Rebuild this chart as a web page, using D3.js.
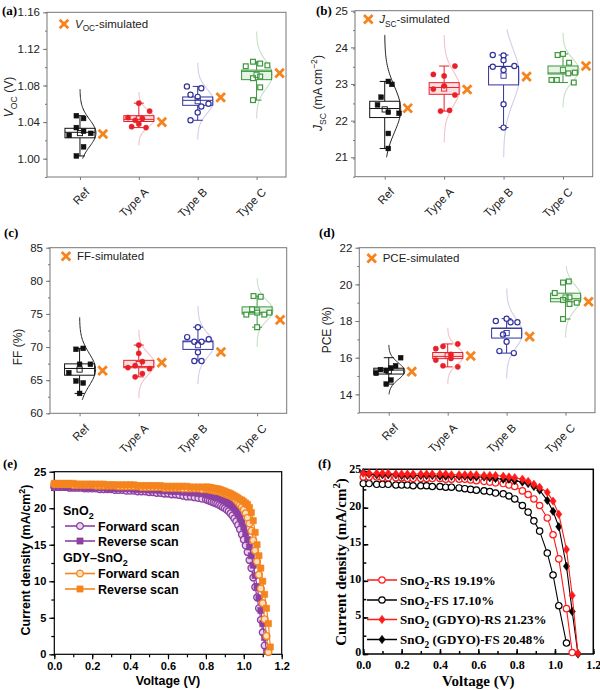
<!DOCTYPE html>
<html>
<head>
<meta charset="utf-8">
<script src="https://cdn.jsdelivr.net/npm/d3@7"></script>
<style>
  body { margin: 0; background: #fff; }
  svg { display: block; }
</style>
</head>
<body>
<div id="chart"></div>
<script>
const width = 600
const height = 690

const groups = ["Ref", "Type A", "Type B", "Type C"]

// (a) Voc (V) - one array per group
const vocValues = [
  [1.047, 1.044, 1.034, 1.030, 1.0255, 1.0277, 1.013, 1.003],
  [1.0607, 1.052, 1.045, 1.044, 1.042, 1.038, 1.035, 1.034],
  [1.079, 1.077, 1.070, 1.0676, 1.060, 1.0506, 1.057, 1.042],
  [1.101, 1.106, 1.104, 1.102, 1.088, 1.0898, 1.078, 1.064]
]
const vocJitter = [
  [-1, 1, -1, 1, -3, 3, 1, -1],
  [0, 3, -3, 1, -1, 0, -2, 2],
  [-3, 1, -2, 0, 3, 0, 1, -2],
  [-3, -1, 1, 3, -1, 1, 1, -1]
]
const vocSim = [1.027, 1.040, 1.067, 1.0935]
const vocCurve = [[1.000, 1.076], [1.0145, 1.073], [1.021, 1.105], [1.044, 1.139]]
const vocTicks = [1.00, 1.04, 1.08, 1.12, 1.16]

// (b) Jsc (mA cm-2)
const jscValues = [
  [23.07, 22.99, 22.64, 22.43, 22.23, 22.20, 21.65, 21.24],
  [23.26, 23.49, 23.22, 22.95, 22.86, 22.70, 22.26, 22.28],
  [23.79, 23.78, 23.47, 23.65, 23.38, 23.49, 22.45, 21.81],
  [23.79, 23.82, 23.58, 23.29, 23.31, 23.11, 23.11, 23.04]
]
const jscJitter = [
  [1, 2, -1, -2, 1, 4, 1, 1],
  [-3, 3, 0, 0, -3, 3, -1, 1.5],
  [-3, 0, -3, 0, 0, 3, 0, 0],
  [-1.5, 0, 1.7, 1.5, 3.3, -3.2, -1.7, 3]
]
const jscSim = [22.34, 22.85, 23.20, 23.49]
const jscCurve = [[21.0, 24.34], [21.4, 24.34], [21.0, 24.49], [22.36, 24.4]]
const jscTicks = [21, 22, 23, 24, 25]

// (c) FF (%)
const ffValues = [
  [69.66, 69.8, 67.4, 67.4, 66.14, 64.88, 64.58, 63.0],
  [70.3, 69.05, 67.8, 67.2, 66.9, 66.74, 66.0, 65.5],
  [73.0, 71.5, 71.17, 70.8, 70.8, 69.2, 67.9, 67.9],
  [77.7, 77.6, 75.7, 75.2, 74.9, 74.9, 75.2, 73.0]
]
const ffJitter = [
  [-1, 1, 0, 3, -3, -1, 1, 0],
  [0, 0, 1, -1, -3, 3, 1, -1],
  [0, -3, 3, -1, 1, 0, -1, 1],
  [-1, 1, -1.4, 0, -3, 2, 3.4, 0]
]
const ffSim = [66.44, 67.65, 69.25, 74.1]
const ffCurve = [[62.0, 74.5], [62.3, 72.6], [64.4, 76.2], [70.0, 80.4]]
const ffTicks = [60, 65, 70, 75, 80, 85]

// (d) PCE (%)
const pceValues = [
  [16.0, 15.56, 15.44, 15.35, 15.3, 15.15, 14.78, 14.56],
  [16.75, 16.62, 16.49, 16.18, 15.96, 15.87, 15.56, 15.5],
  [18.0, 18.13, 17.93, 17.93, 17.27, 16.87, 16.36, 16.25],
  [20.1, 20.16, 19.53, 19.29, 19.15, 19.0, 18.93, 18.11]
]
const pceJitter = [
  [3.3, 1.9, 0.6, -2.3, -0.7, -3.5, 0.6, -0.7],
  [2.8, -1.3, -3.3, 0.9, 0.9, -3.3, -1.3, 2.8],
  [-3, 0, 1.1, 3, -1, 0, -2, 2],
  [-0.7, 0.9, -3, 1.1, -0.7, 3.1, 1.1, -0.7]
]
const pceSim = [15.24, 16.09, 17.15, 19.05]
const pceCurve = [[14.0, 16.7], [14.56, 17.64], [14.87, 19.78], [17.1, 21.0]]
const pceTicks = [14, 16, 18, 20, 22]

// (e) J-V curves, SnO2 vs GDY-SnO2
const voltsE = [0.00, 0.02, 0.04, 0.06, 0.08, 0.10, 0.12, 0.14, 0.16, 0.18,
  0.20, 0.22, 0.24, 0.26, 0.28, 0.30, 0.32, 0.34, 0.36, 0.38,
  0.40, 0.42, 0.44, 0.46, 0.48, 0.50, 0.52, 0.54, 0.56, 0.58,
  0.60, 0.62, 0.64, 0.66, 0.68, 0.70, 0.72, 0.74, 0.76, 0.78, 0.80,
  0.81, 0.82, 0.83, 0.84, 0.85, 0.86, 0.87, 0.88, 0.89, 0.90,
  0.91, 0.92, 0.93, 0.94, 0.95, 0.96, 0.97, 0.98, 0.99, 1.00,
  1.01, 1.02, 1.03, 1.04, 1.05, 1.06, 1.07, 1.08, 1.09, 1.10,
  1.11, 1.12, 1.13, 1.14]
const snForward = [22.9, 22.9, 22.9, 22.9, 22.8, 22.8, 22.8, 22.8, 22.7, 22.7,
  22.7, 22.7, 22.6, 22.6, 22.6, 22.6, 22.5, 22.5, 22.5, 22.4,
  22.4, 22.4, 22.3, 22.3, 22.3, 22.2, 22.2, 22.1, 22.1, 22.0,
  22.0, 21.9, 21.9, 21.8, 21.7, 21.6, 21.6, 21.5, 21.4, 21.3, 21.2,
  21.1, 21.0, 20.9, 20.8, 20.7, 20.6, 20.45, 20.3, 20.15, 20.0,
  19.8, 19.6, 19.3, 19.0, 18.6, 18.2, 17.7, 17.1, 16.4, 15.7,
  14.9, 14.0, 12.9, 11.8, 10.5, 9.2, 7.8, 6.3, 4.7, 3.0, 1.2]
const snReverse = [23.0, 23.0, 23.0, 22.9, 22.9, 22.9, 22.9, 22.9, 22.8, 22.8,
  22.8, 22.8, 22.8, 22.8, 22.7, 22.7, 22.7, 22.7, 22.7, 22.7,
  22.7, 22.6, 22.6, 22.6, 22.6, 22.5, 22.5, 22.5, 22.4, 22.4,
  22.4, 22.3, 22.3, 22.3, 22.2, 22.2, 22.1, 22.1, 22.0, 22.0, 21.9,
  21.85, 21.8, 21.7, 21.65, 21.6, 21.5, 21.4, 21.3, 21.15, 21.0,
  20.85, 20.7, 20.5, 20.3, 20.0, 19.6, 19.2, 18.7, 18.1, 17.4,
  16.6, 15.7, 14.7, 13.5, 12.2, 10.8, 9.3, 7.7, 6.0, 4.2, 2.3, 0.4]
const gdyForward = [23.3, 23.3, 23.3, 23.3, 23.3, 23.2, 23.2, 23.2, 23.2, 23.2,
  23.2, 23.1, 23.1, 23.1, 23.1, 23.1, 23.1, 23.0, 23.0, 23.0,
  23.0, 23.0, 23.0, 22.9, 22.9, 22.9, 22.9, 22.9, 22.9, 22.8,
  22.8, 22.8, 22.8, 22.8, 22.7, 22.7, 22.7, 22.7, 22.7, 22.6, 22.6,
  22.6, 22.55, 22.5, 22.45, 22.4, 22.35, 22.3, 22.2, 22.1, 22.0,
  21.9, 21.8, 21.7, 21.55, 21.4, 21.1, 20.8, 20.5, 20.2, 19.8,
  19.3, 18.7, 17.9, 16.9, 15.6, 14.2, 12.7, 10.9, 9.0, 7.0, 4.8, 2.5, 0.3]
const gdyReverse = [23.4, 23.4, 23.4, 23.4, 23.4, 23.4, 23.3, 23.3, 23.3, 23.3,
  23.3, 23.3, 23.3, 23.3, 23.2, 23.2, 23.2, 23.2, 23.2, 23.2,
  23.2, 23.2, 23.1, 23.1, 23.1, 23.1, 23.1, 23.1, 23.1, 23.0,
  23.0, 23.0, 23.0, 23.0, 23.0, 23.0, 22.9, 22.9, 22.9, 22.9, 22.9,
  22.9, 22.85, 22.8, 22.75, 22.7, 22.65, 22.6, 22.5, 22.4, 22.3,
  22.2, 22.1, 22.0, 21.85, 21.7, 21.55, 21.4, 21.2, 21.1, 20.9,
  20.7, 20.5, 20.1, 19.4, 18.3, 16.7, 15.0, 13.5, 11.8, 10.0,
  8.2, 6.3, 4.2, 1.0]

// (f) J-V curves, SnO2 vs SnO2 (GDYO)
const voltsF = [0.00, 0.03, 0.07, 0.10, 0.13, 0.17, 0.20, 0.23, 0.26, 0.30,
  0.33, 0.36, 0.40, 0.43, 0.46, 0.50, 0.53, 0.56, 0.59, 0.63,
  0.66, 0.69, 0.73, 0.76, 0.79, 0.83, 0.86, 0.89, 0.92, 0.96,
  0.99, 1.02, 1.06, 1.09, 1.12]
const snRS = [24.2, 24.2, 24.2, 24.1, 24.1, 24.1, 24.1, 24.0, 24.0, 24.0,
  24.0, 24.0, 24.0, 23.9, 23.9, 23.9, 23.9, 23.8, 23.7, 23.6,
  23.5, 23.4, 23.3, 23.1, 22.9, 22.3, 21.8, 21.2, 20.3, 18.6,
  16.3, 13.0, 6.2, 0.2]
const snFS = [23.3, 23.3, 23.2, 23.2, 23.2, 23.1, 23.1, 23.1, 23.0, 23.0,
  23.0, 22.9, 22.9, 22.8, 22.8, 22.7, 22.6, 22.5, 22.4, 22.3,
  22.2, 22.0, 21.9, 21.6, 21.2, 20.3, 19.4, 18.2, 16.8, 13.8,
  10.8, 6.6, 1.5]
const gdyoRS = [24.7, 24.7, 24.7, 24.7, 24.7, 24.6, 24.6, 24.6, 24.6, 24.6,
  24.6, 24.6, 24.6, 24.6, 24.5, 24.5, 24.5, 24.5, 24.5, 24.4,
  24.4, 24.4, 24.3, 24.2, 24.1, 23.9, 23.6, 23.2, 22.8, 22.1,
  20.9, 19.1, 14.3, 8.0, 0.1]
const gdyoFS = [24.8, 24.6, 24.5, 24.5, 24.5, 24.5, 24.4, 24.4, 24.4, 24.4,
  24.4, 24.4, 24.3, 24.3, 24.3, 24.3, 24.3, 24.2, 24.2, 24.2,
  24.1, 24.0, 23.9, 23.9, 23.7, 23.5, 23.3, 22.9, 22.4, 21.0,
  19.5, 17.4, 12.0, 5.8, 0.0]

const sansFont = "'Liberation Sans', Arial, sans-serif"
const serifFont = "'Liberation Serif', 'Times New Roman', serif"
const orange = "#f5841f"

const svg = d3.select("#chart")
  .append("svg")
  .attr("width", width)
  .attr("height", height)
  .style("background", "#fff")

// style for each group of the box charts
const groupStyle = [
  { color: "#111", curve: "#222", fill: "none", marker: "square", filled: true },
  { color: "#e8202a", curve: "#f3c3c8", fill: "#fbe1e1", marker: "circle", filled: true },
  { color: "#32329c", curve: "#cfcfea", fill: "none", marker: "circle", filled: false },
  { color: "#3c963c", curve: "#c6e0c6", fill: "#e8f3e8", marker: "square", filled: false }
]

function panelLabel(text, x, y) {
  svg.append("text")
    .attr("x", x).attr("y", y)
    .attr("font-family", serifFont)
    .attr("font-weight", "bold")
    .attr("font-size", 13)
    .text(text)
}

function drawCross(g, x, y) {
  const s = 4.3
  g.append("path")
    .attr("d", `M${x - s},${y - s}L${x + s},${y + s}M${x - s},${y + s}L${x + s},${y - s}`)
    .attr("stroke", orange)
    .attr("stroke-width", 2.8)
    .attr("fill", "none")
}

// rich text helper: parts = [[text, "i"|"sub"|"sup"|""], ...]
function richText(sel, parts, size) {
  let shift = 0
  parts.forEach(([t, kind]) => {
    const sp = sel.append("tspan").text(t)
    let target = 0
    if (kind === "sub") target = size * 0.3
    if (kind === "sup") target = -size * 0.38
    sp.attr("dy", target - shift)
    shift = target
    if (kind === "sub" || kind === "sup") sp.attr("font-size", size * 0.72)
    if (kind === "i") sp.attr("font-style", "italic")
  })
}

function boxPanel(cfg) {
  const g = svg.append("g")
  const x = d3.scaleLinear().domain(cfg.catDomain).range([cfg.left, cfg.right])
  const y = d3.scaleLinear().domain(cfg.yDomain).range([cfg.bottom, cfg.top])
  const jitterStep = 3.6
  const boxW = 30

  // y axis with minor ticks
  const minor = d3.range(cfg.yDomain[0], cfg.yDomain[1] + 1e-9, cfg.minorStep)
  g.append("g")
    .attr("transform", `translate(${cfg.left},0)`)
    .call(d3.axisLeft(y).tickValues(minor).tickSize(2).tickFormat(""))
    .call(a => a.select(".domain").remove())
    .selectAll("line").attr("stroke", "#777")
  const yAxis = g.append("g")
    .attr("transform", `translate(${cfg.left},0)`)
    .call(d3.axisLeft(y).tickValues(cfg.ticks).tickSize(4).tickPadding(3).tickFormat(cfg.fmt))
  yAxis.select(".domain").remove()
  yAxis.selectAll("line").attr("stroke", "#777")
  yAxis.selectAll("text").attr("font-family", sansFont).attr("font-size", 11.5).attr("fill", "#222")

  const xAxis = g.append("g")
    .attr("transform", `translate(0,${cfg.bottom})`)
    .call(d3.axisBottom(x).tickValues([1, 2, 3, 4]).tickSize(3).tickFormat(d => groups[d - 1]))
  xAxis.select(".domain").remove()
  xAxis.selectAll("line").attr("stroke", "#777")
  xAxis.selectAll("text")
    .attr("font-family", sansFont).attr("font-size", 11.5).attr("fill", "#222")
    .attr("text-anchor", "end")
    .attr("y", 0).attr("dy", "0.35em")
    .attr("transform", "translate(7,13) rotate(-45)")

  g.append("rect")
    .attr("x", cfg.left).attr("y", cfg.top)
    .attr("width", cfg.right - cfg.left).attr("height", cfg.bottom - cfg.top)
    .attr("fill", "none").attr("stroke", "#777").attr("stroke-width", 1)

  cfg.values.forEach((vals, i) => {
    const st = groupStyle[i]
    const cx = x(i + 1)
    const sorted = vals.slice().sort(d3.ascending)
    const med = d3.median(sorted)
    const mean = d3.mean(sorted)
    const sd = d3.deviation(sorted)
    // box = mean +/- standard error
    const se = sd / Math.sqrt(sorted.length)
    const q1 = mean - se
    const q3 = mean + se

    // normal distribution curve on the right side
    const [lo, hi] = cfg.curve[i]
    const ys = d3.range(0, 61).map(k => lo + (hi - lo) * k / 60)
    const curveLine = d3.line()
      .x(v => cx + 16 * Math.exp(-0.5 * ((v - mean) / sd) ** 2))
      .y(v => y(v))
      .curve(d3.curveBasis)
    g.append("path")
      .attr("d", curveLine(ys))
      .attr("fill", "none")
      .attr("stroke", st.curve)
      .attr("stroke-width", i === 0 ? 1 : 1.1)

    // whiskers
    ;[[sorted[0], q1], [q3, sorted[sorted.length - 1]]].forEach(([a, b]) => {
      g.append("line")
        .attr("x1", cx).attr("x2", cx)
        .attr("y1", y(a)).attr("y2", y(b))
        .attr("stroke", st.color).attr("stroke-width", 1)
    })
    ;[sorted[0], sorted[sorted.length - 1]].forEach(v => {
      g.append("line")
        .attr("x1", cx - 5).attr("x2", cx + 5)
        .attr("y1", y(v)).attr("y2", y(v))
        .attr("stroke", st.color).attr("stroke-width", 1)
    })

    g.append("rect")
      .attr("x", cx - boxW / 2).attr("y", y(q3))
      .attr("width", boxW).attr("height", y(q1) - y(q3))
      .attr("fill", st.fill === "none" ? "#fff" : st.fill)
      .attr("stroke", st.color).attr("stroke-width", 1)
    g.append("line")
      .attr("x1", cx - boxW / 2).attr("x2", cx + boxW / 2)
      .attr("y1", y(med)).attr("y2", y(med))
      .attr("stroke", st.color).attr("stroke-width", 1)

    // data points
    vals.forEach((v, j) => {
      const px = cx + cfg.jitter[i][j] * jitterStep
      const py = y(v)
      if (st.marker === "square") {
        g.append("rect")
          .attr("x", px - 2.4).attr("y", py - 2.4)
          .attr("width", 4.8).attr("height", 4.8)
          .attr("fill", st.filled ? st.color : "#fff")
          .attr("stroke", st.color).attr("stroke-width", st.filled ? 0.5 : 1.2)
      } else {
        g.append("circle")
          .attr("cx", px).attr("cy", py).attr("r", 2.6)
          .attr("fill", st.filled ? st.color : "#fff")
          .attr("stroke", st.color).attr("stroke-width", st.filled ? 0.5 : 1.2)
      }
    })

    // mean
    g.append("rect")
      .attr("x", cx - 2.6).attr("y", y(mean) - 2.6)
      .attr("width", 5.2).attr("height", 5.2)
      .attr("fill", "none").attr("stroke", st.color).attr("stroke-width", 0.9)

    drawCross(g, cx + 23, y(cfg.sim[i]))
  })

  // legend
  drawCross(g, cfg.legend[0], cfg.legend[1])
  richText(g.append("text")
    .attr("x", cfg.legend[0] + 11).attr("y", cfg.legend[1] + 4)
    .attr("font-family", sansFont).attr("font-size", 11.5).attr("fill", "#222"),
  cfg.legendText, 11.5)

  richText(g.append("text")
    .attr("transform", `translate(${cfg.yLabel[0]},${cfg.yLabel[1]}) rotate(-90)`)
    .attr("text-anchor", "middle")
    .attr("font-family", sansFont).attr("font-size", 12).attr("fill", "#222"),
  cfg.yLabelText, 12)

  panelLabel(cfg.label, cfg.labelPos[0], cfg.labelPos[1])
}

boxPanel({
  label: "(a)", labelPos: [2, 15],
  values: vocValues, jitter: vocJitter, sim: vocSim, curve: vocCurve,
  yDomain: [0.98, 1.16], ticks: vocTicks, minorStep: 0.02, fmt: d3.format(".2f"),
  left: 47, right: 286, top: 12.3, bottom: 177, catDomain: [0.44, 4.5],
  legend: [64, 24], legendText: [["V", "i"], ["OC", "sub"], ["-simulated", ""]],
  yLabel: [13, 97], yLabelText: [["V", "i"], ["OC", "sub"], [" (V)", ""]]
})
boxPanel({
  label: "(b)", labelPos: [316, 15],
  values: jscValues, jitter: jscJitter, sim: jscSim, curve: jscCurve,
  yDomain: [20.47, 25], ticks: jscTicks, minorStep: 0.5, fmt: d3.format("d"),
  left: 355, right: 592.7, top: 10.7, bottom: 176.7, catDomain: [0.5, 4.5],
  legend: [368.3, 19.3], legendText: [["J", "i"], ["SC", "sub"], ["-simulated", ""]],
  yLabel: [322, 93], yLabelText: [["J", "i"], ["SC", "sub"], [" (mA cm", ""], ["−2", "sup"], [")", ""]]
})
boxPanel({
  label: "(c)", labelPos: [4, 237],
  values: ffValues, jitter: ffJitter, sim: ffSim, curve: ffCurve,
  yDomain: [60, 85], ticks: ffTicks, minorStep: 2.5, fmt: d3.format("d"),
  left: 50, right: 286.7, top: 247.7, bottom: 413.3, catDomain: [0.5, 4.5],
  legend: [66, 256.3], legendText: [["FF-simulated", ""]],
  yLabel: [22, 347], yLabelText: [["FF (%)", ""]]
})
boxPanel({
  label: "(d)", labelPos: [319, 237],
  values: pceValues, jitter: pceJitter, sim: pceSim, curve: pceCurve,
  yDomain: [13, 22], ticks: pceTicks, minorStep: 1, fmt: d3.format("d"),
  left: 359.3, right: 595, top: 247.7, bottom: 412.7, catDomain: [0.5, 4.5],
  legend: [371.7, 258.3], legendText: [["PCE-simulated", ""]],
  yLabel: [331, 330], yLabelText: [["PCE (%)", ""]]
})

// ---------- J-V panels ----------
function markerPath(type, size) {
  if (type === "diamond") {
    const s = size
    return `M0,${-s}L${s * 0.75},0L0,${s}L${-s * 0.75},0Z`
  }
  if (type === "square") {
    const s = size
    return `M${-s},${-s}H${s}V${s}H${-s}Z`
  }
  return d3.symbol(d3.symbolCircle, Math.PI * size * size)()
}

function jvAxes(cfg) {
  const g = svg.append("g")
  const x = d3.scaleLinear().domain([0, 1.2]).range([cfg.left, cfg.right])
  const y = d3.scaleLinear().domain(cfg.yDomain).range([cfg.bottom, cfg.top])
  const dir = cfg.inside ? -1 : 1

  const xMinor = d3.axisBottom(x).tickValues(d3.range(0, 1.21, 0.1)).tickSize(3 * dir).tickFormat("")
  const xMajor = d3.axisBottom(x).tickValues([0, 0.2, 0.4, 0.6, 0.8, 1.0, 1.2])
    .tickSize(5 * dir).tickPadding(cfg.inside ? 6 : 3).tickFormat(d3.format(".1f"))
  const yMinor = d3.axisLeft(y).tickValues(d3.range(0, 25.1, 2.5)).tickSize(3 * dir).tickFormat("")
  const yMajor = d3.axisLeft(y).tickValues([0, 5, 10, 15, 20, 25])
    .tickSize(5 * dir).tickPadding(cfg.inside ? 2 : 3).tickFormat(d3.format("d"))

  ;[[xMinor, "b"], [xMajor, "b"], [yMinor, "l"], [yMajor, "l"]].forEach(([ax, side]) => {
    const a = g.append("g")
      .attr("transform", side === "b" ? `translate(0,${cfg.bottom})` : `translate(${cfg.left},0)`)
      .call(ax)
    a.select(".domain").remove()
    a.selectAll("line").attr("stroke", "#000").attr("stroke-width", cfg.frameW)
    a.selectAll("text")
      .attr("font-family", cfg.font).attr("font-weight", "bold")
      .attr("font-size", cfg.tickSize).attr("fill", "#000")
    // keep the "0" of the inner y axis clear of the "0.0" below it
    if (side === "l" && cfg.inside) a.selectAll("text").attr("dy", "0.12em")
  })

  g.append("rect")
    .attr("x", cfg.left).attr("y", cfg.top)
    .attr("width", cfg.right - cfg.left).attr("height", cfg.bottom - cfg.top)
    .attr("fill", "none").attr("stroke", "#000").attr("stroke-width", cfg.frameW)

  g.append("text")
    .attr("x", (cfg.left + cfg.right) / 2).attr("y", cfg.xLabelY)
    .attr("text-anchor", "middle")
    .attr("font-family", cfg.font).attr("font-weight", "bold").attr("font-size", cfg.labelSize)
    .text("Voltage (V)")
  richText(g.append("text")
    .attr("transform", `translate(${cfg.yLabelX},${cfg.yLabelY}) rotate(-90)`)
    .attr("text-anchor", "middle")
    .attr("font-family", cfg.font).attr("font-weight", "bold").attr("font-size", cfg.labelSize),
  [["Current density (mA/cm", ""], ["2", "sup"], [")", ""]], cfg.labelSize)

  return { g, x, y }
}

function drawSeries(ax, volts, vals, st) {
  const pts = vals.map((v, i) => [volts[i], v])
  ax.g.append("path")
    .attr("d", d3.line().x(d => ax.x(d[0])).y(d => ax.y(d[1]))(pts))
    .attr("fill", "none").attr("stroke", st.color).attr("stroke-width", st.lineW)
  ax.g.selectAll(null)
    .data(pts)
    .join("path")
    .attr("transform", d => `translate(${ax.x(d[0])},${ax.y(d[1])})`)
    .attr("d", markerPath(st.marker, st.size))
    .attr("fill", st.fill)
    .attr("stroke", st.color)
    .attr("stroke-width", st.strokeW)
}

function legendRow(g, x, y, st, parts, font, size) {
  g.append("line")
    .attr("x1", x).attr("x2", x + 30).attr("y1", y).attr("y2", y)
    .attr("stroke", st.color).attr("stroke-width", st.lineW + 0.4)
  g.append("path")
    .attr("transform", `translate(${x + 15},${y})`)
    .attr("d", markerPath(st.marker, st.size))
    .attr("fill", st.fill).attr("stroke", st.color).attr("stroke-width", st.strokeW)
  richText(g.append("text")
    .attr("x", x + 33).attr("y", y + size * 0.36)
    .attr("font-family", font).attr("font-weight", "bold").attr("font-size", size),
  parts, size)
}

// (e)
const purple = "#8e3fa3"
const eStyles = {
  snF: { color: purple, marker: "circle", size: 3.4, fill: "#e6d3ec", strokeW: 1.3, lineW: 1.2 },
  snR: { color: purple, marker: "square", size: 3.1, fill: purple, strokeW: 0.6, lineW: 1.2 },
  gdF: { color: orange, marker: "circle", size: 3.4, fill: "#ffe0bd", strokeW: 1.3, lineW: 1.2 },
  gdR: { color: orange, marker: "square", size: 3.1, fill: orange, strokeW: 0.6, lineW: 1.2 }
}
const axE = jvAxes({
  left: 54.3, right: 281.7, top: 471.7, bottom: 654.3, yDomain: [0, 25],
  inside: false, font: sansFont, frameW: 1.2, tickSize: 11, labelSize: 12.5,
  xLabelY: 685, yLabelX: 30, yLabelY: 560
})
drawSeries(axE, voltsE, snForward, eStyles.snF)
drawSeries(axE, voltsE, snReverse, eStyles.snR)
drawSeries(axE, voltsE, gdyForward, eStyles.gdF)
drawSeries(axE, voltsE, gdyReverse, eStyles.gdR)

const legE = axE.g.append("g")
richText(legE.append("text").attr("x", 63).attr("y", 515)
  .attr("font-family", sansFont).attr("font-weight", "bold").attr("font-size", 12.5),
  [["SnO", ""], ["2", "sub"]], 12.5)
legendRow(legE, 65, 526, eStyles.snF, [["Forward scan", ""]], sansFont, 12.5)
legendRow(legE, 65, 541, eStyles.snR, [["Reverse scan", ""]], sansFont, 12.5)
richText(legE.append("text").attr("x", 63).attr("y", 562)
  .attr("font-family", sansFont).attr("font-weight", "bold").attr("font-size", 12.5),
  [["GDY–SnO", ""], ["2", "sub"]], 12.5)
legendRow(legE, 65, 573.5, eStyles.gdF, [["Forward scan", ""]], sansFont, 12.5)
legendRow(legE, 65, 589, eStyles.gdR, [["Reverse scan", ""]], sansFont, 12.5)
panelLabel("(e)", 3, 468)

// (f)
const fStyles = {
  snRS: { color: "#ff1a1a", marker: "circle", size: 3.2, fill: "#fff", strokeW: 1.2, lineW: 1.1 },
  snFS: { color: "#000", marker: "circle", size: 3.2, fill: "#fff", strokeW: 1.2, lineW: 1.1 },
  gdRS: { color: "#ff1a1a", marker: "diamond", size: 4.2, fill: "#ff1a1a", strokeW: 0.5, lineW: 1.1 },
  gdFS: { color: "#000", marker: "diamond", size: 4.2, fill: "#000", strokeW: 0.5, lineW: 1.1 }
}
const axF = jvAxes({
  left: 363.3, right: 593.3, top: 469.3, bottom: 654, yDomain: [0, 25.25],
  inside: true, font: serifFont, frameW: 1.5, tickSize: 12, labelSize: 15,
  xLabelY: 686, yLabelX: 346, yLabelY: 562
})
drawSeries(axF, voltsF, snFS, fStyles.snFS)
drawSeries(axF, voltsF, snRS, fStyles.snRS)
drawSeries(axF, voltsF, gdyoFS, fStyles.gdFS)
drawSeries(axF, voltsF, gdyoRS, fStyles.gdRS)

const legF = axF.g.append("g")
legendRow(legF, 367, 580, fStyles.snRS, [["SnO", ""], ["2", "sub"], ["-RS 19.19%", ""]], serifFont, 13)
legendRow(legF, 367, 600, fStyles.snFS, [["SnO", ""], ["2", "sub"], ["-FS 17.10%", ""]], serifFont, 13)
legendRow(legF, 367, 619.5, fStyles.gdRS, [["SnO", ""], ["2", "sub"], [" (GDYO)-RS 21.23%", ""]], serifFont, 13)
legendRow(legF, 367, 639.5, fStyles.gdFS, [["SnO", ""], ["2", "sub"], [" (GDYO)-FS 20.48%", ""]], serifFont, 13)
panelLabel("(f)", 318, 468)
</script>
</body>
</html>
